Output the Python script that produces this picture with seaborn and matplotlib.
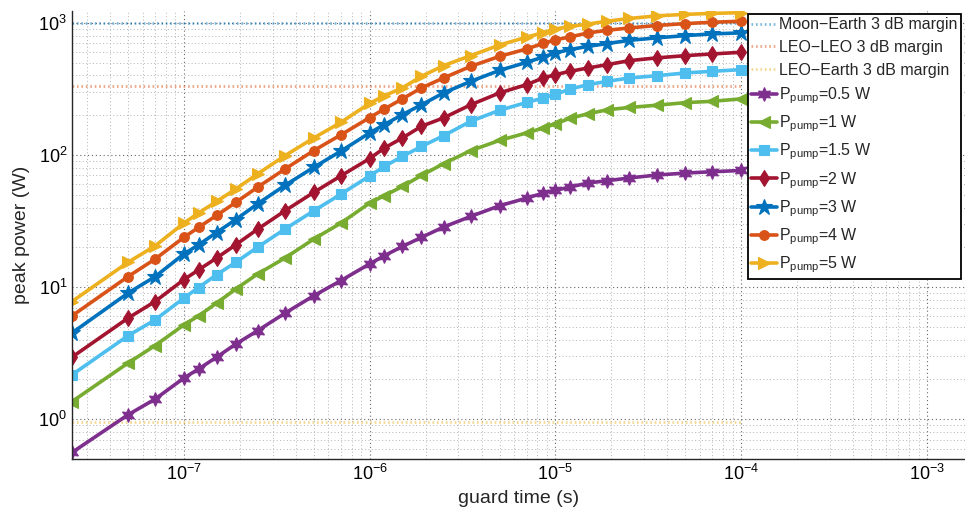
import numpy as np
import pandas as pd
import matplotlib
matplotlib.use("Agg")
import matplotlib.pyplot as plt
import seaborn as sns
from matplotlib.ticker import LogLocator, LogFormatterSciNotation, NullFormatter

# ---------------- data ----------------
guard_time = [2.5e-8, 5e-8, 7e-8, 1e-7, 1.2e-7, 1.5e-7, 1.9e-7, 2.5e-7, 3.5e-7, 5e-7, 7e-7,
              1e-6, 1.2e-6, 1.5e-6, 1.9e-6, 2.5e-6, 3.5e-6, 5e-6, 7e-6, 8.6e-6,
              1e-5, 1.2e-5, 1.5e-5, 1.9e-5, 2.5e-5, 3.5e-5, 5e-5, 7e-5, 1e-4]

p_0_5 = [0.56, 1.08, 1.42, 2.05, 2.40, 2.95, 3.70, 4.69, 6.35, 8.6, 11.2, 15.0, 17.3, 20.3, 23.8,
         28.5, 34.3, 41.3, 47.2, 51.5, 54.0, 57.3, 61.4, 63.9, 67.0, 70.5, 73.0, 74.7, 76.4]
p_1 = [1.36, 2.66, 3.61, 5.18, 6.06, 7.57, 9.66, 12.6, 16.6, 23.1, 30.5, 43.3, 49.2, 57.8, 70.0,
       86.0, 108, 129, 147, 160, 172, 190, 205, 220, 229, 238, 249, 255, 266]
p_1_5 = [2.17, 4.28, 5.65, 8.26, 9.93, 12.4, 15.4, 20.1, 27.5, 37.8, 50.5, 69.5, 82.0, 97.6, 116,
         140, 180, 218, 250, 270, 288, 316, 341, 361, 383, 398, 418, 430, 443]
p_2 = [2.95, 5.82, 7.78, 11.4, 13.5, 16.6, 20.9, 27.5, 37.8, 52.1, 69.5, 94.0, 113, 134.5, 165,
       191, 240, 295, 341, 383, 406, 430, 456, 483, 518, 543, 565, 582, 599]
p_3 = [4.5, 9.0, 12.0, 17.8, 20.9, 25.9, 32.4, 42.8, 58.9, 80.6, 107, 147, 170, 202, 240,
       295, 361, 437, 503, 552, 593, 628, 665, 697, 738, 770, 801, 826, 840]
p_4 = [6.06, 12.0, 16.3, 23.8, 28.3, 34.9, 43.7, 57.2, 78.3, 108, 142, 192, 223, 266, 322,
       383, 469, 558, 635, 700, 745, 783, 840, 879, 916, 955, 988, 1011, 1029]
p_5 = [7.78, 15.4, 20.5, 30.5, 36.4, 44.5, 55.2, 72.1, 98.8, 134.5, 176.6, 246, 281, 322, 394,
       475, 565, 680, 780, 845, 900, 940, 980, 1030, 1080, 1130, 1160, 1180, 1195]

pump_labels = ["0.5", "1", "1.5", "2", "3", "4", "5"]
series = [p_0_5, p_1, p_1_5, p_2, p_3, p_4, p_5]

margin_labels = ["Moon\u2212Earth 3 dB margin", "LEO\u2212LEO 3 dB margin", "LEO\u2212Earth 3 dB margin"]
margin_values = [1000, 335, 0.96]
margin_x = [2.5e-8, 1e-4]

# ---------------- style ----------------
series_colors = ["#7E2F8E", "#77AC30", "#4DBEEE", "#A2142F", "#0072BD", "#D95319", "#EDB120"]
series_markers = [(6, 1, 0), "<", "s", "d", "*", "o", ">"]
series_msize = [10, 9, 7, 8, 12, 7, 9]
margin_colors = ["#0072BD", "#D95319", "#EDB120"]

sns.set_theme(style="white")
plt.rcParams["font.family"] = ["Liberation Sans", "DejaVu Sans"]
plt.rcParams["mathtext.fontset"] = "custom"
plt.rcParams["mathtext.rm"] = "Liberation Sans"
plt.rcParams["mathtext.it"] = "Liberation Sans:italic"
plt.rcParams["mathtext.bf"] = "Liberation Sans:bold"

fig = plt.figure(figsize=(9.65, 5.13), dpi=100)
ax = fig.add_axes([72 / 965, 54 / 513, 893 / 965, 448 / 513])
ax.set_xscale("log")
ax.set_yscale("log")

for lab, val, col in zip(margin_labels, margin_values, margin_colors):
    df = pd.DataFrame({"x": margin_x, "y": [val, val]})
    sns.lineplot(data=df, x="x", y="y", ax=ax, color=col, linewidth=2.0,
                 linestyle=(0, (0.6, 1.0)), alpha=0.5, label=lab, errorbar=None)

for lab, vals, col, mk, ms in zip(pump_labels, series, series_colors, series_markers, series_msize):
    df = pd.DataFrame({"x": guard_time, "y": vals})
    sns.lineplot(data=df, x="x", y="y", ax=ax, color=col, linewidth=2.6,
                 marker=mk, markersize=ms, markeredgecolor=col, markerfacecolor=col,
                 markeredgewidth=0.8,
                 label=r"P$_{\mathregular{pump}}$=" + lab + " W", errorbar=None)

ax.set_xlim(2.5e-8, 1.6e-3)
ax.set_ylim(0.5, 1230)

ax.xaxis.set_major_locator(LogLocator(base=10, numticks=20))
ax.xaxis.set_minor_locator(LogLocator(base=10, subs=np.arange(2, 10), numticks=200))
ax.xaxis.set_minor_formatter(NullFormatter())
ax.yaxis.set_major_locator(LogLocator(base=10, numticks=20))
ax.yaxis.set_minor_locator(LogLocator(base=10, subs=np.arange(2, 10), numticks=200))
ax.yaxis.set_minor_formatter(NullFormatter())
ax.xaxis.set_major_formatter(LogFormatterSciNotation())
ax.yaxis.set_major_formatter(LogFormatterSciNotation())

ax.tick_params(which="both", direction="in", top=False, right=False, colors="0.15",
               labelcolor="black")
ax.tick_params(which="major", length=6, width=0.9, labelsize=13)
ax.tick_params(which="minor", length=3, width=0.7)

ax.grid(True, which="major", linestyle=(0, (1, 2.5)), color="0.4", linewidth=0.8)
ax.grid(True, which="minor", linestyle=(0, (1, 2.5)), color="0.7", linewidth=0.7)

for s in ["top", "right"]:
    ax.spines[s].set_visible(False)
for s in ["left", "bottom"]:
    ax.spines[s].set_color("0.15")
    ax.spines[s].set_linewidth(1.0)

ax.set_xlabel("guard time (s)", fontsize=14, labelpad=4)
ax.set_ylabel("peak power (W)", fontsize=14, labelpad=6)

handles, labels = ax.get_legend_handles_labels()
leg = ax.legend(handles, labels, loc="upper left",
                bbox_to_anchor=(748 / 965, 1 - 14 / 513), bbox_transform=fig.transFigure,
                frameon=True, fancybox=False, edgecolor="black", framealpha=1,
                fontsize=11.5, handlelength=1.6, handletextpad=0.15, borderpad=0.2,
                labelspacing=0.48, borderaxespad=0)
leg.get_frame().set_linewidth(1.3)

fig.savefig("out.png", dpi=100)
